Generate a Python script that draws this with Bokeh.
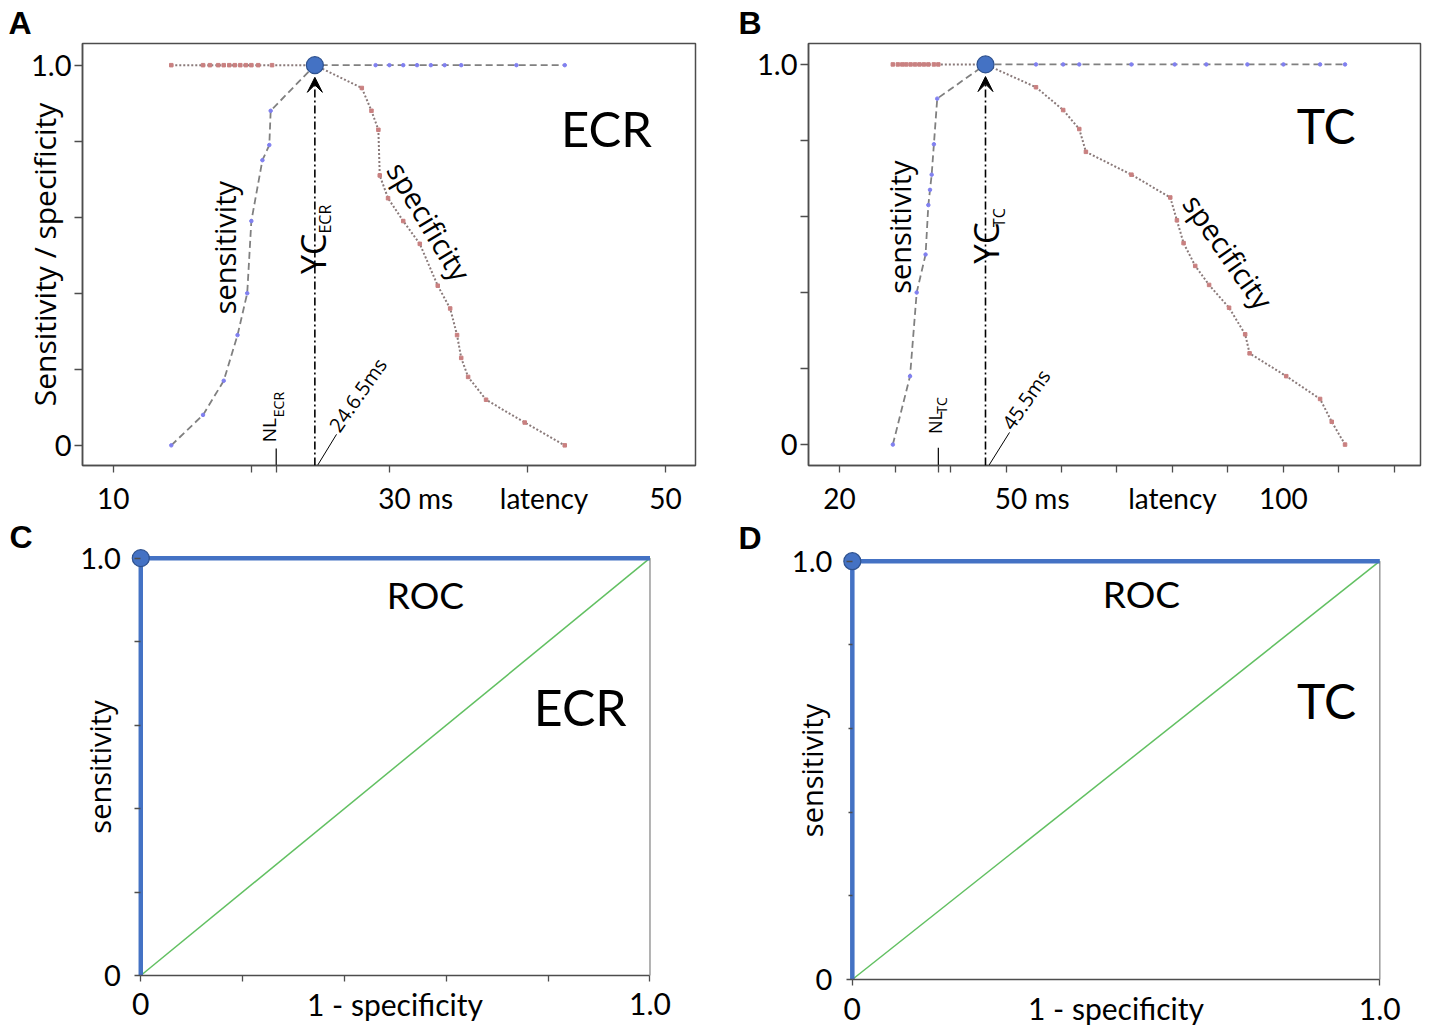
from bokeh.plotting import figure
from bokeh.models import Label, Arrow, VeeHead, FixedTicker, Range1d
from bokeh.layouts import row, column
from bokeh.embed import file_html
from bokeh.resources import INLINE

# ---------------- data ----------------
# Panel A : ECR latency (ms) vs sensitivity / specificity
ecr_sens_x = [14.2, 16.5, 18.0, 19.0, 19.7, 20.0, 20.8, 21.3, 21.4, 24.6,
              29.0, 30.0, 31.0, 32.0, 33.0, 34.0, 35.2, 39.2, 42.7]
ecr_sens_y = [0.0, 0.08, 0.17, 0.29, 0.40, 0.59, 0.75, 0.79, 0.88, 1.0,
              1.0, 1.0, 1.0, 1.0, 1.0, 1.0, 1.0, 1.0, 1.0]
ecr_spec_x = [14.2, 16.5, 17.0, 17.6, 18.0, 18.4, 18.8, 19.2, 19.6, 20.0, 20.5, 21.5, 24.6,
              28.0, 28.7, 29.2, 29.3, 29.9, 31.0, 32.2, 33.5, 34.4, 34.9, 35.2, 35.7, 37.0, 39.8, 42.7]
ecr_spec_y = [1.0, 1.0, 1.0, 1.0, 1.0, 1.0, 1.0, 1.0, 1.0, 1.0, 1.0, 1.0, 1.0,
              0.94, 0.88, 0.83, 0.71, 0.65, 0.59, 0.53, 0.42, 0.36, 0.29, 0.23, 0.18, 0.12, 0.06, 0.0]
ecr_cutoff = 24.6          # Youden cut-off (YC_ECR)
ecr_nl = 21.8              # normal limit (NL_ECR)

# Panel B : TC latency (ms)
tc_sens_x = [29.6, 32.7, 33.9, 35.5, 36.0, 36.3, 36.6, 37.0, 37.6, 46.3,
             55.4, 60.3, 63.2, 72.6, 80.4, 86.1, 93.5, 100.0, 106.6, 111.1]
tc_sens_y = [0.0, 0.18, 0.40, 0.50, 0.63, 0.67, 0.71, 0.79, 0.91, 1.0,
             1.0, 1.0, 1.0, 1.0, 1.0, 1.0, 1.0, 1.0, 1.0, 1.0]
tc_spec_x = [29.6, 30.5, 31.3, 32.0, 32.8, 33.6, 34.4, 35.2, 36.0, 37.0, 37.8, 46.3,
             55.4, 60.3, 63.2, 64.4, 72.6, 79.6, 80.8, 82.0, 84.1, 86.6, 90.2, 93.1, 93.9,
             100.5, 106.6, 108.7, 111.1]
tc_spec_y = [1.0, 1.0, 1.0, 1.0, 1.0, 1.0, 1.0, 1.0, 1.0, 1.0, 1.0, 1.0,
             0.94, 0.88, 0.83, 0.77, 0.71, 0.65, 0.59, 0.53, 0.47, 0.42, 0.36, 0.29, 0.24,
             0.18, 0.12, 0.06, 0.0]
tc_cutoff = 46.3
tc_nl = 37.8

# Panels C / D : ROC curves
roc_x = [0.0, 0.0, 1.0]
roc_y = [0.0, 1.0, 1.0]
chance_x = [0.0, 1.0]
chance_y = [0.0, 1.0]
opt_x = [0.0]
opt_y = [1.0]

# x-axis tick marks and tick labels (label anchors as placed in the figure)
ecr_ticks = [10, 20, 30, 40, 50]
ecr_label_at = [10, 31.9, 41.2, 50]
ecr_label_text = ["10", "30 ms", "latency", "50"]
tc_ticks = [20, 30, 40, 50, 60, 70, 80, 90, 100, 110, 120]
tc_label_at = [20, 54.7, 80, 100]
tc_label_text = ["20", "50 ms", "latency", "100"]

# ---------------- styling ----------------
AX = "#4d4d4d"
SENS_LINE = "#808080"
SPEC_LINE = "#8a7a7a"
SENS_DOT = "#8080f0"
SPEC_DOT = "#c98080"
BLUE = "#4472C4"
BLUE_EDGE = "#2F528F"
GREEN = "#62c062"
TICKFONT = "Lato"
TXT = "Open Sans"
BOLD = "Liberation Sans"


def lab(p, x, y, text, size, font=TXT, angle=0, align="center", baseline="middle", style="normal"):
    p.add_layout(Label(x=x, y=y, text=text, text_font=font, text_font_size=f"{size}px",
                       angle=angle, angle_units="deg", text_align=align,
                       text_baseline=baseline, text_font_style=style, text_color="black"))


def style_axis(ax, font_size=27, standoff=5, tick_out=7):
    ax.axis_line_color = AX
    ax.axis_line_width = 1.5
    ax.major_tick_line_color = AX
    ax.minor_tick_line_color = AX
    ax.major_tick_line_width = 1.3
    ax.minor_tick_line_width = 1.3
    ax.major_tick_in = 0
    ax.minor_tick_in = 0
    ax.major_tick_out = tick_out
    ax.minor_tick_out = tick_out
    ax.major_label_text_font = TICKFONT
    ax.major_label_text_font_size = f"{font_size}px"
    ax.major_label_text_color = "black"
    ax.major_label_standoff = standoff
    ax.axis_label_text_font_style = "normal"
    ax.axis_label_text_color = "black"


def latency_panel(letter, letter_offset, xr, yr, fw, fh, bl, br, bt, bb,
                  ticks, label_at, label_text,
                  sx, sy, spx, spy, cutoff, nl, ylabel):
    p = figure(x_range=Range1d(*xr), y_range=Range1d(*yr), frame_width=fw, frame_height=fh,
               min_border_left=bl, min_border_right=br, min_border_top=bt, min_border_bottom=bb,
               output_backend="svg", toolbar_location=None)
    p.xgrid.visible = False
    p.ygrid.visible = False
    p.outline_line_color = AX
    p.outline_line_width = 1.5
    p.background_fill_color = "white"
    p.border_fill_color = "white"

    p.title.text = letter
    p.title.align = "left"
    p.title.offset = letter_offset
    p.title.standoff = 5
    p.title.text_font = BOLD
    p.title.text_font_size = "32px"
    p.title.text_font_style = "bold"
    p.title.text_color = "black"

    # tick marks drawn as (minor) ticks, labels on tick-less major positions
    p.xaxis.ticker = FixedTicker(ticks=label_at, minor_ticks=ticks + [nl])
    p.xaxis.major_label_overrides = dict(zip(label_at, label_text))
    style_axis(p.xaxis[0], font_size=28, standoff=8, tick_out=7)
    p.xaxis.major_tick_out = 0

    p.yaxis.ticker = FixedTicker(ticks=[0, 1], minor_ticks=[0.2, 0.4, 0.6, 0.8])
    p.yaxis.major_label_overrides = {1: "1.0"}
    style_axis(p.yaxis[0], font_size=29, standoff=3, tick_out=8)
    if ylabel:
        p.yaxis.axis_label = ylabel
        p.yaxis.axis_label_text_font = TXT
        p.yaxis.axis_label_text_font_size = "30px"
        p.yaxis.axis_label_standoff = -37

    # curves
    p.line(sx, sy, line_color=SENS_LINE, line_width=1.8, line_dash="7 4")
    p.scatter(sx, sy, size=3.5, color=SENS_DOT, marker="circle")
    p.line(spx, spy, line_color=SPEC_LINE, line_width=2, line_dash="2 2")
    p.scatter(spx, spy, size=3.5, color=SPEC_DOT, marker="square")

    # cut-off arrow
    p.add_layout(Arrow(end=VeeHead(size=15, fill_color="black", line_color="black"),
                       x_start=cutoff, y_start=yr[0], x_end=cutoff, y_end=0.968,
                       line_color="black", line_width=1.6, line_dash="8 3 2 3"))
    p.scatter([cutoff], [1.0], size=17, fill_color=BLUE, line_color=BLUE_EDGE, line_width=1.2)
    # normal-limit mark (continues below the axis as an extra tick)
    p.segment(x0=[nl], y0=[-0.008], x1=[nl], y1=[yr[0]], line_color="black", line_width=1.2)
    return p


# ---------------- Panel A ----------------
pA = latency_panel("A", -74, (7.77, 52.17), (-0.053, 1.057), 613, 422, 82, 25, 43, 49,
                   ecr_ticks, ecr_label_at, ecr_label_text,
                   ecr_sens_x, ecr_sens_y, ecr_spec_x, ecr_spec_y, ecr_cutoff, ecr_nl,
                   "Sensitivity / specificity")
lab(pA, 45.72, 0.835, "ECR", 49, font=TICKFONT)
lab(pA, 18.06, 0.52, "sensitivity", 29, angle=90)
lab(pA, 32.9, 0.59, "specificity", 29, angle=-59)
lab(pA, 24.47, 0.451, "YC", 34, angle=90, align="left")
lab(pA, 25.37, 0.557, "ECR", 16, angle=90, align="left")
lab(pA, 21.31, 0.008, "NL", 19, angle=90, align="left")
lab(pA, 21.97, 0.074, "ECR", 14, angle=90, align="left")
pA.segment(x0=[24.79], y0=[-0.053], x1=[26.17], y1=[0.029], line_color="black", line_width=1)
lab(pA, 25.95, 0.042, "24.6.5ms", 20, angle=55, align="left")

# ---------------- Panel B ----------------
pB = latency_panel("B", -70, (14.4, 124.7), (-0.055, 1.055), 612, 422, 88, 9, 43, 49,
                   tc_ticks, tc_label_at, tc_label_text,
                   tc_sens_x, tc_sens_y, tc_spec_x, tc_spec_y, tc_cutoff, tc_nl, None)
lab(pB, 107.7, 0.839, "TC", 48, font=TICKFONT)
lab(pB, 30.8, 0.572, "sensitivity", 29, angle=90)
lab(pB, 90.1, 0.508, "specificity", 29, angle=-55)
lab(pB, 46.39, 0.4755, "YC", 35, angle=90, align="left")
lab(pB, 48.74, 0.572, "TC", 16, angle=90, align="left")
lab(pB, 37.11, 0.028, "NL", 18, angle=90, align="left")
lab(pB, 38.37, 0.081, "TC", 14, angle=90, align="left")
pB.segment(x0=[46.9], y0=[-0.055], x1=[50.63], y1=[0.032], line_color="black", line_width=1)
lab(pB, 50.09, 0.046, "45.5ms", 20, angle=55, align="left")


# ---------------- ROC panels ----------------
def roc_panel(letter, letter_xy, xr, yr, fw, fh, xminor, yminor_out):
    p = figure(x_range=Range1d(*xr), y_range=Range1d(*yr),
               frame_width=fw, frame_height=fh,
               min_border_left=0, min_border_right=0, min_border_top=0, min_border_bottom=0,
               output_backend="svg", toolbar_location=None)
    p.xgrid.visible = False
    p.ygrid.visible = False
    p.outline_line_color = None
    p.background_fill_color = "white"
    p.border_fill_color = "white"

    p.xaxis.fixed_location = 0
    p.xaxis.bounds = (0, 1)
    p.xaxis.ticker = FixedTicker(ticks=[0, 1], minor_ticks=xminor)
    p.xaxis.major_label_overrides = {1: "1.0"}
    style_axis(p.xaxis[0], font_size=30, standoff=12, tick_out=6)
    p.xaxis.axis_label = "1 - specificity"
    p.xaxis.axis_label_text_font = TICKFONT
    p.xaxis.axis_label_text_font_size = "30px"
    p.xaxis.axis_label_standoff = -33

    p.yaxis.fixed_location = 0
    p.yaxis.bounds = (0, 1)
    p.yaxis.ticker = FixedTicker(ticks=[0, 1], minor_ticks=[0.2, 0.4, 0.6, 0.8])
    p.yaxis.major_label_overrides = {1: "1.0"}
    style_axis(p.yaxis[0], font_size=29, standoff=14, tick_out=6)
    p.yaxis.minor_tick_out = yminor_out
    p.yaxis.axis_line_color = None
    p.yaxis.axis_label = "sensitivity"
    p.yaxis.axis_label_text_font = TXT
    p.yaxis.axis_label_text_font_size = "29px"
    p.yaxis.axis_label_standoff = -42

    p.segment(x0=[1.0], y0=[0.0], x1=[1.0], y1=[1.0], line_color="#9a9a9a", line_width=1.5)
    p.line(chance_x, chance_y, line_color=GREEN, line_width=1.5)
    p.line(roc_x, roc_y, line_color=BLUE, line_width=4.5)
    p.scatter(opt_x, opt_y, size=17, fill_color=BLUE, line_color=BLUE_EDGE, line_width=1.2)
    lab(p, letter_xy[0], letter_xy[1], letter, 32, font=BOLD, align="left", style="bold")
    return p


pC = roc_panel("C", (-0.258, 1.0496), (-0.2755, 1.1385), (-0.1318, 1.0975), 720, 513,
               [0.2, 0.4, 0.6, 0.8], 6)
lab(pC, 0.559, 0.913, "ROC", 37, font=TICKFONT)
lab(pC, 0.863, 0.643, "ECR", 50, font=TICKFONT)

pD = roc_panel("D", (-0.2157, 1.0566), (-0.2499, 1.0942), (-0.1219, 1.1045), 709, 513, [], 4)
lab(pD, 0.548, 0.923, "ROC", 37, font=TICKFONT)
lab(pD, 0.899, 0.668, "TC", 48, font=TICKFONT)

layout = column(row(pA, pB), row(pC, pD))
open("out.html", "w").write(file_html(layout, INLINE))
